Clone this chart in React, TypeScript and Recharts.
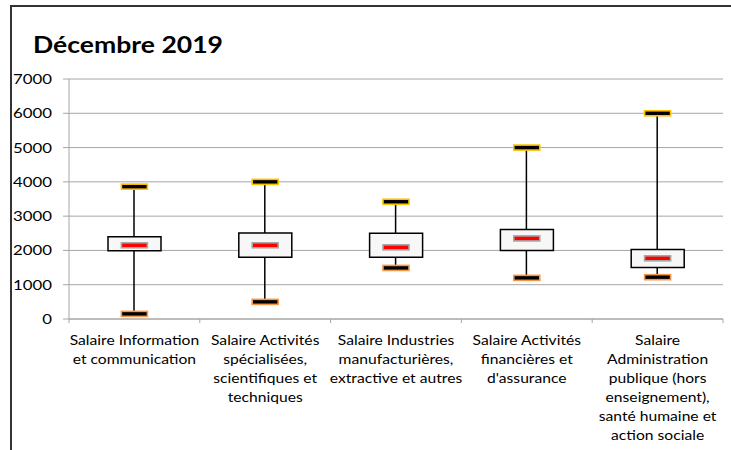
import React from "react";
import { ComposedChart, Bar, Scatter, XAxis, YAxis, CartesianGrid } from "recharts";

const categories = [
  "Salaire Information|et communication",
  "Salaire Activités|spécialisées,|scientifiques et|techniques",
  "Salaire Industries|manufacturières,|extractive et autres",
  "Salaire Activités|financières et|d'assurance",
  "Salaire|Administration|publique (hors|enseignement),|santé humaine et|action sociale",
];
const minValues = [150, 500, 1490, 1200, 1220];
const q1Values = [1990, 1800, 1800, 2000, 1500];
const meanValues = [2150, 2150, 2090, 2350, 1770];
const q3Values = [2400, 2510, 2500, 2610, 2030];
const maxValues = [3860, 4000, 3420, 5000, 6000];
const yTicks = [0, 1000, 2000, 3000, 4000, 5000, 6000, 7000];

const data = categories.map((name, i) => ({
  name,
  min: minValues[i],
  q1: q1Values[i],
  mean: meanValues[i],
  q3: q3Values[i],
  max: maxValues[i],
  whisker: [minValues[i], maxValues[i]],
  box: [q1Values[i], q3Values[i]],
}));

const FONT = "Lato, 'Open Sans', sans-serif";
const GRID = "#A6A6A6";

const YTick = (props: any) => {
  const { x, y, payload } = props;
  return (
    <text
      x={0}
      y={0}
      transform={`translate(${x},${y}) scale(1.2,1)`}
      textAnchor="end"
      dy="0.36em"
      fontFamily={FONT}
      fontSize={14}
      fill="#000"
    >
      {payload.value}
    </text>
  );
};

const XTick = (props: any) => {
  const { x, y, payload, index, width } = props;
  const n = categories.length;
  const bw = (typeof width === "number" && width > 0 ? width : 654) / n;
  const lines = String(payload.value).split("|");
  return (
    <g>
      <line x1={x - bw / 2} x2={x - bw / 2} y1={y} y2={y + 4} stroke={GRID} strokeWidth={1} />
      {index === n - 1 && (
        <line x1={x + bw / 2} x2={x + bw / 2} y1={y} y2={y + 4} stroke={GRID} strokeWidth={1} />
      )}
      <text
        x={0}
        y={0}
        transform={`translate(${x},${y}) scale(1.16,1)`}
        textAnchor="middle"
        fontFamily={FONT}
        fontSize={13.5}
        fill="#000"
      >
        {lines.map((l, i) => (
          <tspan key={i} x={0} y={26 + i * 19}>
            {l}
          </tspan>
        ))}
      </text>
    </g>
  );
};

const WhiskerShape = (p: any) => {
  const cx = p.x + p.width / 2;
  return <line x1={cx} x2={cx} y1={p.y} y2={p.y + p.height} stroke="#000" strokeWidth={1.5} />;
};

const makeMarker = (fill: string, stroke: string) => (p: any) => {
  const { cx, cy } = p;
  if (cx == null || cy == null) return <g />;
  return (
    <rect x={cx - 13} y={cy - 2.5} width={26} height={5} fill={fill} stroke={stroke} strokeWidth={1.6} />
  );
};
const MaxMarker = makeMarker("#000", "#FFC000");
const MinMarker = makeMarker("#000", "#F79646");
const MeanMarker = makeMarker("#FF0000", "#A6A6A6");

export default function App() {
  return (
    <div style={{ position: "absolute", left: 0, top: 0, width: 731, height: 450, background: "#fff", overflow: "hidden" }}>
      <div
        style={{
          position: "absolute",
          left: 10,
          top: 5,
          width: 740,
          height: 460,
          borderTop: "2px solid #333",
          borderLeft: "2px solid #333",
        }}
      />
      <div
        style={{
          position: "absolute",
          left: 33,
          top: 31,
          fontFamily: FONT,
          fontWeight: 700,
          fontSize: 22.5,
          color: "#000",
          transform: "scale(1.18,1)",
          transformOrigin: "0 0",
          whiteSpace: "nowrap",
          lineHeight: "28px",
        }}
      >
        Décembre 2019
      </div>
      <ComposedChart
        width={731}
        height={450}
        data={data}
        margin={{ top: 79, right: 8, left: 0, bottom: 0 }}
        style={{ position: "absolute", left: 0, top: 0 }}
      >
        <CartesianGrid vertical={false} stroke={GRID} strokeWidth={1} />
        <YAxis
          width={69}
          domain={[0, 7000]}
          ticks={yTicks}
          interval={0}
          tickSize={6}
          tickMargin={11}
          tick={<YTick />}
          axisLine={{ stroke: GRID }}
          tickLine={{ stroke: GRID }}
        />
        <XAxis
          dataKey="name"
          height={131}
          interval={0}
          tickSize={0}
          tickMargin={0}
          tickLine={false}
          axisLine={{ stroke: GRID }}
          tick={<XTick />}
        />
        <XAxis dataKey="name" xAxisId="w" hide />
        <XAxis dataKey="name" xAxisId="b" hide />
        <Bar dataKey="whisker" xAxisId="w" barSize={4} shape={WhiskerShape} isAnimationActive={false} />
        <Bar
          dataKey="box"
          xAxisId="b"
          barSize={53}
          fill="#F7F7F7"
          stroke="#000"
          strokeWidth={1.5}
          isAnimationActive={false}
        />
        <Scatter dataKey="mean" xAxisId="w" shape={MeanMarker} isAnimationActive={false} />
        <Scatter dataKey="max" xAxisId="w" shape={MaxMarker} isAnimationActive={false} />
        <Scatter dataKey="min" xAxisId="w" shape={MinMarker} isAnimationActive={false} />
      </ComposedChart>
    </div>
  );
}
